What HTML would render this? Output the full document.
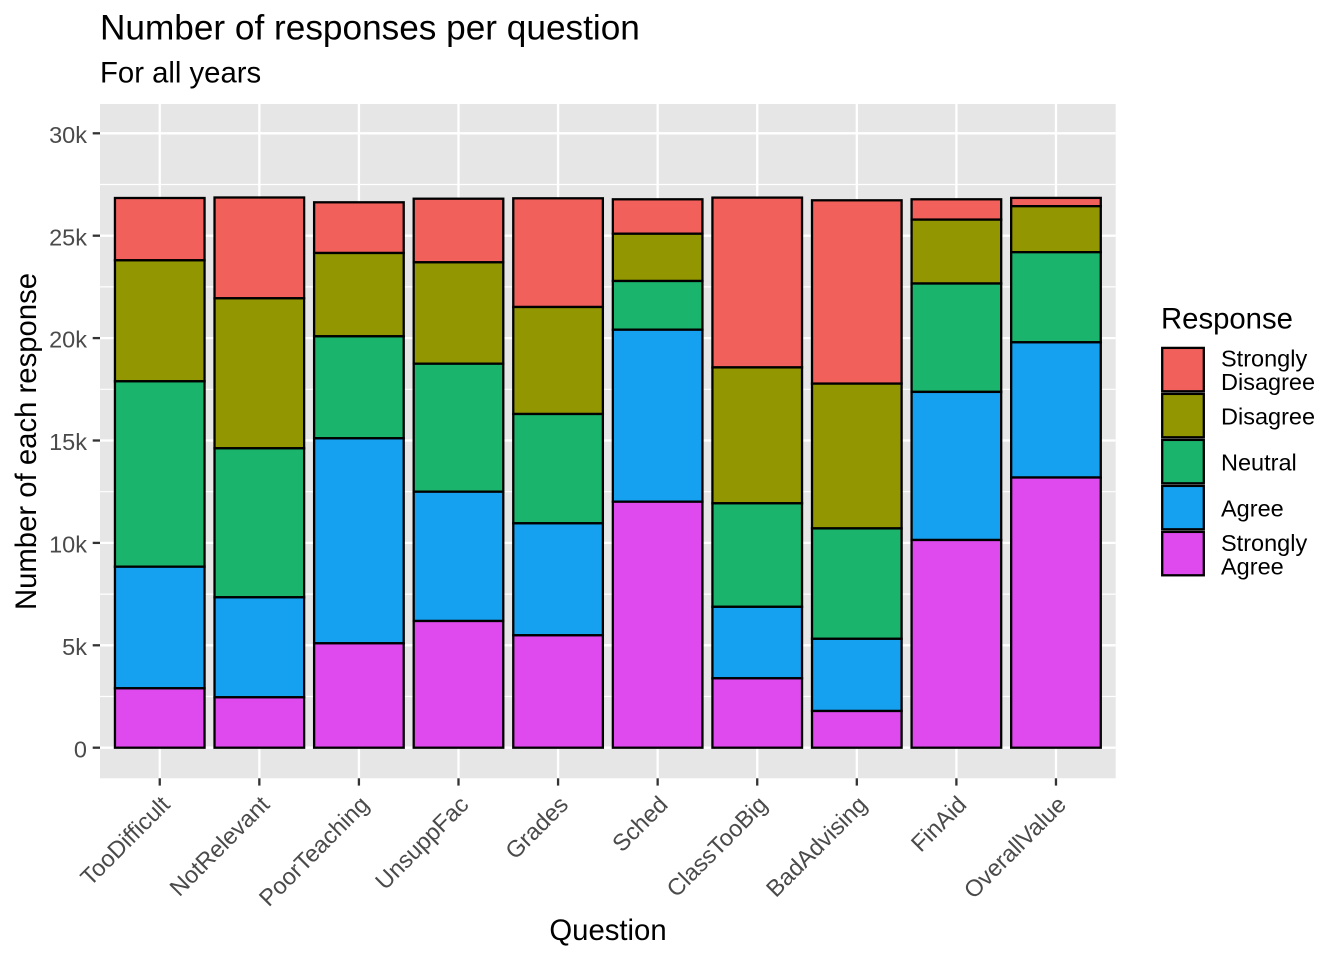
<!DOCTYPE html>
<html>
<head>
<meta charset="utf-8">
<style>
html,body{margin:0;padding:0;background:#fff;}
svg{display:block;}
text{font-family:"Liberation Sans",Arial,Helvetica,sans-serif;}
</style>
</head>
<body>
<svg width="1344" height="960" viewBox="0 0 1344 960" xmlns="http://www.w3.org/2000/svg">
<rect x="0" y="0" width="1344" height="960" fill="#ffffff"/>
<!-- titles -->
<text x="100" y="39.5" font-size="35.2" fill="#000">Number of responses per question</text>
<text x="100" y="82.5" font-size="29.3" fill="#000">For all years</text>

<!-- panel -->
<rect x="100" y="104" width="1015.7" height="674.3" fill="#E6E6E6"/>
<!-- minor grid -->
<g stroke="#ffffff" stroke-width="1.2">
<line x1="100" x2="1115.7" y1="696.5" y2="696.5"/>
<line x1="100" x2="1115.7" y1="594.1" y2="594.1"/>
<line x1="100" x2="1115.7" y1="491.7" y2="491.7"/>
<line x1="100" x2="1115.7" y1="389.3" y2="389.3"/>
<line x1="100" x2="1115.7" y1="286.9" y2="286.9"/>
<line x1="100" x2="1115.7" y1="184.5" y2="184.5"/>
</g>
<!-- major grid -->
<g stroke="#ffffff" stroke-width="2.3">
<line x1="100" x2="1115.7" y1="747.7" y2="747.7"/>
<line x1="100" x2="1115.7" y1="645.3" y2="645.3"/>
<line x1="100" x2="1115.7" y1="542.9" y2="542.9"/>
<line x1="100" x2="1115.7" y1="440.5" y2="440.5"/>
<line x1="100" x2="1115.7" y1="338.1" y2="338.1"/>
<line x1="100" x2="1115.7" y1="235.7" y2="235.7"/>
<line x1="100" x2="1115.7" y1="133.3" y2="133.3"/>
<line y1="104" y2="778.3" x1="159.75" x2="159.75"/>
<line y1="104" y2="778.3" x1="259.33" x2="259.33"/>
<line y1="104" y2="778.3" x1="358.91" x2="358.91"/>
<line y1="104" y2="778.3" x1="458.49" x2="458.49"/>
<line y1="104" y2="778.3" x1="558.07" x2="558.07"/>
<line y1="104" y2="778.3" x1="657.65" x2="657.65"/>
<line y1="104" y2="778.3" x1="757.23" x2="757.23"/>
<line y1="104" y2="778.3" x1="856.81" x2="856.81"/>
<line y1="104" y2="778.3" x1="956.39" x2="956.39"/>
<line y1="104" y2="778.3" x1="1055.97" x2="1055.97"/>
</g>

<!-- bars -->
<g stroke="#000" stroke-width="2.3">
<!-- 1 TooDifficult -->
<rect x="114.95" width="89.6" y="198" height="62.3" fill="#F2605C"/>
<rect x="114.95" width="89.6" y="260.3" height="121" fill="#929600"/>
<rect x="114.95" width="89.6" y="381.3" height="185.4" fill="#1BB46C"/>
<rect x="114.95" width="89.6" y="566.7" height="121.6" fill="#16A0F0"/>
<rect x="114.95" width="89.6" y="688.3" height="59.4" fill="#DF4AEF"/>
<!-- 2 NotRelevant -->
<rect x="214.53" width="89.6" y="197.5" height="100.8" fill="#F2605C"/>
<rect x="214.53" width="89.6" y="298.3" height="150" fill="#929600"/>
<rect x="214.53" width="89.6" y="448.3" height="149" fill="#1BB46C"/>
<rect x="214.53" width="89.6" y="597.3" height="100" fill="#16A0F0"/>
<rect x="214.53" width="89.6" y="697.3" height="50.4" fill="#DF4AEF"/>
<!-- 3 PoorTeaching -->
<rect x="314.11" width="89.6" y="202.3" height="50.7" fill="#F2605C"/>
<rect x="314.11" width="89.6" y="253" height="83.3" fill="#929600"/>
<rect x="314.11" width="89.6" y="336.3" height="102" fill="#1BB46C"/>
<rect x="314.11" width="89.6" y="438.3" height="205" fill="#16A0F0"/>
<rect x="314.11" width="89.6" y="643.3" height="104.4" fill="#DF4AEF"/>
<!-- 4 UnsuppFac -->
<rect x="413.69" width="89.6" y="198.7" height="63.6" fill="#F2605C"/>
<rect x="413.69" width="89.6" y="262.3" height="101.4" fill="#929600"/>
<rect x="413.69" width="89.6" y="363.7" height="128" fill="#1BB46C"/>
<rect x="413.69" width="89.6" y="491.7" height="129.3" fill="#16A0F0"/>
<rect x="413.69" width="89.6" y="621" height="126.7" fill="#DF4AEF"/>
<!-- 5 Grades -->
<rect x="513.27" width="89.6" y="198.3" height="108.7" fill="#F2605C"/>
<rect x="513.27" width="89.6" y="307" height="107" fill="#929600"/>
<rect x="513.27" width="89.6" y="414" height="109.3" fill="#1BB46C"/>
<rect x="513.27" width="89.6" y="523.3" height="112" fill="#16A0F0"/>
<rect x="513.27" width="89.6" y="635.3" height="112.4" fill="#DF4AEF"/>
<!-- 6 Sched -->
<rect x="612.85" width="89.6" y="199.3" height="34.4" fill="#F2605C"/>
<rect x="612.85" width="89.6" y="233.7" height="47.3" fill="#929600"/>
<rect x="612.85" width="89.6" y="281" height="48.7" fill="#1BB46C"/>
<rect x="612.85" width="89.6" y="329.7" height="172" fill="#16A0F0"/>
<rect x="612.85" width="89.6" y="501.7" height="246" fill="#DF4AEF"/>
<!-- 7 ClassTooBig -->
<rect x="712.43" width="89.6" y="197.6" height="169.8" fill="#F2605C"/>
<rect x="712.43" width="89.6" y="367.4" height="135.9" fill="#929600"/>
<rect x="712.43" width="89.6" y="503.3" height="103.5" fill="#1BB46C"/>
<rect x="712.43" width="89.6" y="606.8" height="71.5" fill="#16A0F0"/>
<rect x="712.43" width="89.6" y="678.3" height="69.4" fill="#DF4AEF"/>
<!-- 8 BadAdvising -->
<rect x="812.01" width="89.6" y="200.3" height="183.3" fill="#F2605C"/>
<rect x="812.01" width="89.6" y="383.6" height="144.8" fill="#929600"/>
<rect x="812.01" width="89.6" y="528.4" height="110.4" fill="#1BB46C"/>
<rect x="812.01" width="89.6" y="638.8" height="72.2" fill="#16A0F0"/>
<rect x="812.01" width="89.6" y="711" height="36.7" fill="#DF4AEF"/>
<!-- 9 FinAid -->
<rect x="911.59" width="89.6" y="199.3" height="20.3" fill="#F2605C"/>
<rect x="911.59" width="89.6" y="219.6" height="63.9" fill="#929600"/>
<rect x="911.59" width="89.6" y="283.5" height="108.4" fill="#1BB46C"/>
<rect x="911.59" width="89.6" y="391.9" height="148.1" fill="#16A0F0"/>
<rect x="911.59" width="89.6" y="540" height="207.7" fill="#DF4AEF"/>
<!-- 10 OverallValue -->
<rect x="1011.17" width="89.6" y="197.9" height="8.3" fill="#F2605C"/>
<rect x="1011.17" width="89.6" y="206.2" height="46" fill="#929600"/>
<rect x="1011.17" width="89.6" y="252.2" height="90.1" fill="#1BB46C"/>
<rect x="1011.17" width="89.6" y="342.3" height="135.2" fill="#16A0F0"/>
<rect x="1011.17" width="89.6" y="477.5" height="270.2" fill="#DF4AEF"/>
</g>

<!-- y ticks -->
<g stroke="#333333" stroke-width="2.3">
<line x1="92.7" x2="100" y1="747.7" y2="747.7"/>
<line x1="92.7" x2="100" y1="645.3" y2="645.3"/>
<line x1="92.7" x2="100" y1="542.9" y2="542.9"/>
<line x1="92.7" x2="100" y1="440.5" y2="440.5"/>
<line x1="92.7" x2="100" y1="338.1" y2="338.1"/>
<line x1="92.7" x2="100" y1="235.7" y2="235.7"/>
<line x1="92.7" x2="100" y1="133.3" y2="133.3"/>
</g>
<g font-size="23.5" fill="#4A4A4A" text-anchor="end">
<text x="87" y="757.3">0</text>
<text x="87" y="654.9">5k</text>
<text x="87" y="552.5">10k</text>
<text x="87" y="450.1">15k</text>
<text x="87" y="347.7">20k</text>
<text x="87" y="245.3">25k</text>
<text x="87" y="142.9">30k</text>
</g>

<!-- x ticks -->
<g stroke="#333333" stroke-width="2.3">
<line y1="778.3" y2="785.6" x1="159.75" x2="159.75"/>
<line y1="778.3" y2="785.6" x1="259.33" x2="259.33"/>
<line y1="778.3" y2="785.6" x1="358.91" x2="358.91"/>
<line y1="778.3" y2="785.6" x1="458.49" x2="458.49"/>
<line y1="778.3" y2="785.6" x1="558.07" x2="558.07"/>
<line y1="778.3" y2="785.6" x1="657.65" x2="657.65"/>
<line y1="778.3" y2="785.6" x1="757.23" x2="757.23"/>
<line y1="778.3" y2="785.6" x1="856.81" x2="856.81"/>
<line y1="778.3" y2="785.6" x1="956.39" x2="956.39"/>
<line y1="778.3" y2="785.6" x1="1055.97" x2="1055.97"/>
</g>
<g font-size="23.5" fill="#4A4A4A" text-anchor="end">
<text transform="translate(171.25,806) rotate(-45)">TooDifficult</text>
<text transform="translate(270.83,806) rotate(-45)">NotRelevant</text>
<text transform="translate(370.41,806) rotate(-45)">PoorTeaching</text>
<text transform="translate(469.99,806) rotate(-45)">UnsuppFac</text>
<text transform="translate(569.57,806) rotate(-45)">Grades</text>
<text transform="translate(669.15,806) rotate(-45)">Sched</text>
<text transform="translate(768.73,806) rotate(-45)">ClassTooBig</text>
<text transform="translate(868.31,806) rotate(-45)">BadAdvising</text>
<text transform="translate(967.89,806) rotate(-45)">FinAid</text>
<text transform="translate(1067.47,806) rotate(-45)">OverallValue</text>
</g>

<!-- axis titles -->
<text x="608" y="940" font-size="29.3" fill="#000" text-anchor="middle">Question</text>
<text transform="translate(36,441.5) rotate(-90)" font-size="29.3" fill="#000" text-anchor="middle">Number of each response</text>

<!-- legend -->
<text x="1161" y="328.3" font-size="29.3" fill="#000">Response</text>
<g stroke="#000" stroke-width="2.3">
<rect x="1162.2" y="347.9" width="41.6" height="43.4" fill="#F2605C"/>
<rect x="1162.2" y="393.9" width="41.6" height="43.4" fill="#929600"/>
<rect x="1162.2" y="439.9" width="41.6" height="43.4" fill="#1BB46C"/>
<rect x="1162.2" y="485.9" width="41.6" height="43.4" fill="#16A0F0"/>
<rect x="1162.2" y="531.9" width="41.6" height="43.4" fill="#DF4AEF"/>
</g>
<g font-size="23.5" fill="#000">
<text x="1221" y="366.7">Strongly</text>
<text x="1221" y="390">Disagree</text>
<text x="1221" y="424.3">Disagree</text>
<text x="1221" y="470.7">Neutral</text>
<text x="1221" y="516.7">Agree</text>
<text x="1221" y="551">Strongly</text>
<text x="1221" y="574.5">Agree</text>
</g>
</svg>
</body>
</html>
